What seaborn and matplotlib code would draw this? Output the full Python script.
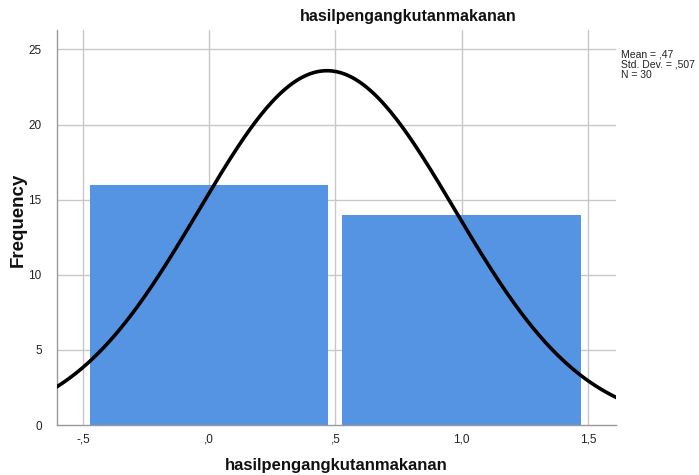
import numpy as np
import pandas as pd
import seaborn as sns
import matplotlib.pyplot as plt

# frequency table
values = [0, 1]
counts = [16, 14]
var_name = 'hasilpengangkutanmakanan'
x_ticks = [-0.5, 0.0, 0.5, 1.0, 1.5]
x_ticklabels = ['-,5', ',0', ',5', '1,0', '1,5']
y_ticks = [0, 5, 10, 15, 20, 25]

sns.set_style('white')
plt.rcParams['font.family'] = ['Liberation Sans', 'DejaVu Sans']

df = pd.DataFrame({var_name: np.repeat(values, counts)})
n = len(df)
mean = df[var_name].mean()
sd = df[var_name].std()

f = plt.figure(figsize=(6.99, 4.75), dpi=100)
ax = f.add_axes([0.0815, 0.105, 0.7995, 0.832])

# grid behind the bars
for xt in x_ticks:
	ax.axvline(xt, color='#c8c8c8', lw=1, zorder=0)
for yt in y_ticks[1:]:
	ax.axhline(yt, color='#c8c8c8', lw=1, zorder=0)

sns.histplot(data=df, x=var_name, bins=[-0.5, 0.5, 1.5], color='#5594e3',
	alpha=1, shrink=0.944, linewidth=0, ax=ax, zorder=2)

# normal curve scaled to counts (bin width 1)
xs = np.linspace(-0.62, 1.62, 300)
ys = n * 1.0 / (sd * np.sqrt(2 * np.pi)) * np.exp(-0.5 * ((xs - mean) / sd) ** 2)
sns.lineplot(x=xs, y=ys, color='black', lw=2.6, ax=ax, zorder=3)

ax.set_xlim(-0.603, 1.611)
ax.set_ylim(0, 26.3)
ax.set_xticks(x_ticks)
ax.set_xticklabels(x_ticklabels)
ax.set_yticks(y_ticks)
ax.tick_params(axis='both', labelsize=8.5, colors='#222222')
ax.tick_params(axis='y', length=8, color='#c8c8c8', width=1, pad=3)
ax.tick_params(axis='x', length=2, color='#c8c8c8', pad=4)
for s in ['top', 'right']:
	ax.spines[s].set_visible(False)
for s in ['left', 'bottom']:
	ax.spines[s].set_color('#999999')
	ax.spines[s].set_linewidth(1)

f.text(408 / 699, 1 - 17 / 475, var_name, fontsize=11.5, fontweight='bold',
	ha='center', va='center', color='#111111')
ax.set_xlabel(var_name, fontsize=12, fontweight='bold', labelpad=9, color='#111111')
ax.set_ylabel('')
f.text(18 / 699, 1 - 220 / 475, 'Frequency', fontsize=13.5, fontweight='bold',
	rotation=90, ha='center', va='center', color='#111111')

stats_text = 'Mean = ,{:02d}\nStd. Dev. = ,{:03d}\nN = {}'.format(
	int(round(mean * 100)), int(round(sd * 1000)), n)
f.text(0.889, 0.895, stats_text, fontsize=7.5, va='top', ha='left',
	linespacing=1.0, color='#222222')

f.savefig('out.png', dpi=100)
plt.close('all')
